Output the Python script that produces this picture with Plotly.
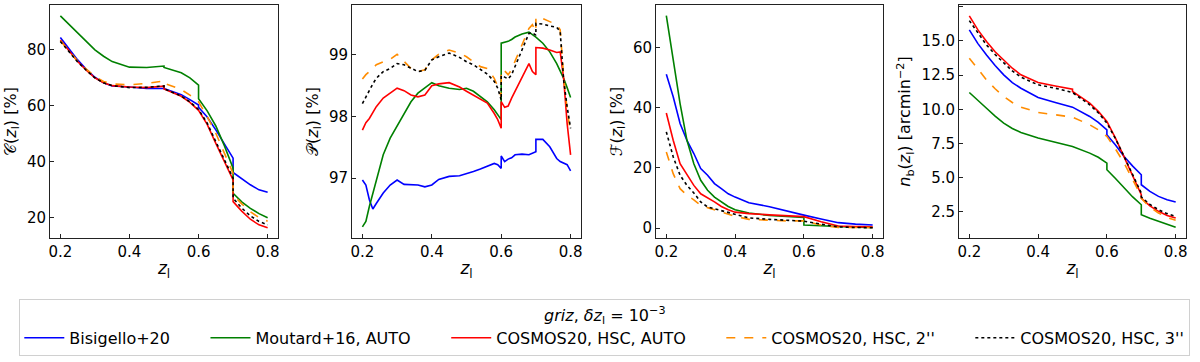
import plotly.graph_objects as go

# ---- data ----
labels = ["Bisigello+20", "Moutard+16, AUTO", "COSMOS20, HSC, AUTO",
          "COSMOS20, HSC, 2''", "COSMOS20, HSC, 3''"]
colors = ["#0000ff", "#008000", "#ff0000", "#ff8c00", "#000000"]
dashes = ["solid", "solid", "solid", "dash", "dot"]

# completeness C(z_l) [%]
z_c = [0.2, 0.225, 0.25, 0.275, 0.3, 0.325, 0.35, 0.4, 0.45, 0.5, 0.5, 0.55, 0.575,
       0.6, 0.6, 0.625, 0.65, 0.675, 0.7, 0.7, 0.725, 0.75, 0.775, 0.8]
c_bis = [84.2, 80.0, 76.2, 72.8, 70.0, 68.0, 66.9, 66.5, 66.0, 66.0, 66.0, 63.8, 62.0,
         60.1, 59.3, 55.8, 51.2, 46.2, 41.1, 36.0, 33.8, 31.6, 29.8, 28.9]
c_mou = [91.9, 88.8, 85.7, 82.6, 79.8, 77.5, 75.6, 73.6, 73.5, 74.0, 73.5, 71.6, 69.8,
         67.2, 62.3, 58.0, 52.6, 45.5, 37.5, 28.6, 25.5, 23.2, 21.3, 19.8]
c_auto = [83.3, 79.3, 75.6, 72.5, 69.8, 68.0, 67.0, 66.5, 66.3, 66.8, 65.8, 63.2, 61.0,
          58.2, 58.2, 53.2, 46.4, 40.0, 33.3, 25.6, 22.2, 19.3, 17.3, 16.3]
c_2as = [83.0, 79.3, 75.8, 72.9, 70.3, 68.5, 67.6, 67.3, 67.8, 68.7, 67.9, 65.6, 63.6,
         61.2, 61.2, 56.0, 50.0, 42.8, 35.7, 28.0, 24.8, 22.0, 19.9, 18.6]
c_3as = [82.8, 79.0, 75.5, 72.5, 69.8, 68.0, 67.0, 66.3, 66.4, 66.9, 65.9, 63.3, 61.2,
         58.5, 58.5, 53.6, 47.0, 40.6, 34.0, 26.8, 23.3, 20.5, 18.5, 17.3]

# purity P(z_l) [%]
z_p = [0.2, 0.21, 0.22, 0.23, 0.24, 0.26, 0.28, 0.3, 0.32, 0.34, 0.36, 0.38, 0.4, 0.42,
       0.45, 0.48, 0.5, 0.52, 0.54, 0.56, 0.58, 0.59, 0.6, 0.6, 0.61, 0.62, 0.63, 0.64,
       0.66, 0.68, 0.69, 0.7, 0.7, 0.72, 0.74, 0.76, 0.77, 0.78, 0.79, 0.8]
p_bis = [96.97, 96.89, 96.65, 96.50, 96.59, 96.76, 96.89, 96.97, 96.90, 96.90, 96.89,
         96.86, 96.89, 96.98, 97.03, 97.04, 97.07, 97.11, 97.15, 97.19, 97.24, 97.22,
         97.16, 97.36, 97.27, 97.31, 97.33, 97.38, 97.39, 97.38, 97.41, 97.43, 97.63,
         97.63, 97.51, 97.32, 97.27, 97.24, 97.22, 97.12]
p_mou = [96.21, 96.30, 96.54, 96.75, 96.97, 97.38, 97.65, 97.85, 98.05, 98.24, 98.38,
         98.46, 98.55, 98.50, 98.46, 98.44, 98.46, 98.41, 98.32, 98.24, 98.11, 98.03,
         97.95, 99.19, 99.20, 99.22, 99.25, 99.29, 99.34, 99.37, 99.33, 99.29, 99.29,
         99.19, 99.05, 98.86, 98.75, 98.62, 98.47, 98.31]
p_auto = [97.78, 97.90, 97.97, 98.06, 98.16, 98.30, 98.38, 98.46, 98.42, 98.35, 98.32,
          98.35, 98.50, 98.53, 98.55, 98.48, 98.41, 98.35, 98.28, 98.22, 98.05, 97.95,
          97.81, 98.24, 98.15, 98.17, 98.30, 98.41, 98.64, 98.86, 98.73, 98.68, 99.12,
          99.11, 99.08, 99.04, 99.05, 98.62, 97.89, 97.38]
p_2as = [98.61, 98.68, 98.73, 98.79, 98.84, 98.89, 98.93, 99.01, 98.89, 98.78, 98.73,
         98.76, 98.92, 99.01, 99.08, 99.03, 98.97, 98.89, 98.81, 98.78, 98.62, 98.49,
         98.32, 98.76, 98.74, 98.68, 98.76, 98.90, 99.17, 99.43, 99.49, 99.38, 99.61,
         99.59, 99.54, 99.49, 99.41, 98.65, 98.11, 97.73]
p_3as = [98.21, 98.32, 98.43, 98.53, 98.62, 98.73, 98.78, 98.86, 98.84, 98.78, 98.73,
         98.75, 98.92, 98.97, 99.03, 98.96, 98.89, 98.84, 98.76, 98.69, 98.57, 98.46,
         98.27, 98.66, 98.64, 98.61, 98.68, 98.82, 99.10, 99.35, 99.36, 99.32, 99.51,
         99.50, 99.47, 99.45, 99.38, 98.59, 98.16, 97.81]

# fraction F(z_l) [%]
z_f = [0.2, 0.22, 0.24, 0.26, 0.28, 0.3, 0.32, 0.34, 0.36, 0.38, 0.4, 0.44, 0.5, 0.55,
       0.6, 0.6, 0.65, 0.7, 0.75, 0.8]
f_bis = [51.2, 43.7, 34.8, 29.2, 24.8, 19.8, 17.6, 14.8, 13.1, 11.4, 10.3, 8.4, 7.1, 5.6,
         4.3, 4.3, 3.0, 1.8, 1.3, 1.0]
f_mou = [70.7, 55.9, 41.4, 29.2, 21.4, 15.9, 12.6, 10.3, 8.7, 7.2, 6.1, 5.0, 4.2, 3.8,
         3.5, 1.0, 0.7, 0.4, 0.3, 0.2]
f_auto = [38.3, 29.2, 21.4, 17.6, 14.2, 11.4, 10.1, 8.7, 7.2, 6.1, 5.3, 4.8, 4.4, 4.0,
          3.8, 3.8, 2.1, 0.7, 0.5, 0.4]
f_2as = [25.3, 18.1, 13.1, 10.9, 9.4, 7.6, 6.8, 6.1, 5.3, 4.6, 3.9, 2.9, 2.5, 2.4,
         2.4, 2.4, 1.0, 0.2, 0.2, 0.2]
f_3as = [32.0, 23.7, 17.6, 14.2, 11.7, 8.7, 7.0, 6.4, 5.7, 5.0, 4.6, 3.4, 2.9, 2.7,
         2.3, 2.3, 1.3, 0.4, 0.2, 0.1]

# number density n_b(z_l) [arcmin^-2]
z_n = z_c
n_bis = [15.8, 14.8, 13.97, 13.2, 12.52, 11.95, 11.54, 10.86, 10.5, 10.16, 10.16, 9.48,
         9.05, 8.5, 8.14, 7.4, 6.56, 5.85, 5.22, 4.49, 4.0, 3.64, 3.4, 3.23]
n_mou = [11.23, 10.62, 10.08, 9.5, 8.99, 8.6, 8.31, 7.9, 7.58, 7.29, 7.29, 6.8, 6.5,
         6.07, 5.59, 4.95, 4.25, 3.6, 3.03, 2.3, 2.05, 1.82, 1.58, 1.38]
n_auto = [16.82, 15.8, 14.95, 14.2, 13.6, 13.0, 12.52, 11.96, 11.71, 11.47, 11.3, 10.45,
          9.85, 9.11, 9.11, 7.9, 6.56, 5.2, 3.76, 3.52, 2.95, 2.55, 2.25, 2.06]
n_2as = [13.73, 12.9, 12.15, 11.5, 10.94, 10.5, 10.16, 9.77, 9.6, 9.43, 9.43, 8.87, 8.5,
         8.02, 8.02, 7.1, 6.07, 4.85, 3.64, 3.5, 2.85, 2.43, 2.1, 1.89]
n_3as = [16.48, 15.55, 14.7, 14.0, 13.37, 12.8, 12.35, 11.79, 11.54, 11.23, 11.23, 10.33,
         9.75, 9.0, 9.0, 7.85, 6.56, 5.2, 3.88, 3.6, 3.05, 2.67, 2.38, 2.18]

panels = [
    (z_c, [c_bis, c_mou, c_auto, c_2as, c_3as]),
    (z_p, [p_bis, p_mou, p_auto, p_2as, p_3as]),
    (z_f, [f_bis, f_mou, f_auto, f_2as, f_3as]),
    (z_n, [n_bis, n_mou, n_auto, n_2as, n_3as]),
]

ytitles = [
    "\U0001D49E(<i>z</i><sub>l</sub>) [%]",
    "\U0001D4AB(<i>z</i><sub>l</sub>) [%]",
    "\u2131(<i>z</i><sub>l</sub>) [%]",
    "<i>n</i><sub>b</sub>(<i>z</i><sub>l</sub>) [arcmin<sup>\u22122</sup>]",
]
yranges = [[12.6, 95.8], [96.03, 99.81], [-3.3, 74.2], [0.6, 17.62]]
yticks = [[20, 40, 60, 80], [97, 98, 99], [0, 20, 40, 60],
          [2.5, 5.0, 7.5, 10.0, 12.5, 15.0, 17.5]]
yfmt = ["d", "d", "d", ".1f"]

W, H = 1200, 362
xdom_px = [(50, 278), (352, 581), (656, 883), (959, 1186)]
ydom = [(H - 238) / H, (H - 5) / H]

fig = go.Figure()
font = "DejaVu Sans"
pad = [6, 6, 6, 6, 0]  # extra spacing after legend texts

for i, (zz, series) in enumerate(panels):
    n = "" if i == 0 else str(i + 1)
    for k, ys in enumerate(series):
        fig.add_trace(go.Scatter(
            x=zz, y=ys, mode="lines", name=labels[k] + "\u00a0" * pad[k],
            legendgroup=labels[k], showlegend=(i == 0),
            line=dict(color=colors[k], width=1.6, dash=dashes[k]),
            xaxis="x" + n, yaxis="y" + n,
        ))
    ax = dict(showline=True, linecolor="#222", linewidth=1, mirror=True,
              ticks="inside", ticklen=4, tickcolor="#222", showgrid=False,
              zeroline=False, automargin=False,
              tickfont=dict(size=15, color="black"))
    x0, x1 = xdom_px[i]
    fig.layout["xaxis" + n] = dict(
        ax, domain=[x0 / W, x1 / W], range=[0.17, 0.83],
        tickvals=[0.2, 0.4, 0.6, 0.8], tickformat=".1f", anchor="y" + n,
        title=dict(text="<i>z</i><sub>l</sub>", font=dict(size=17, color="black"),
                   standoff=2),
    )
    fig.layout["yaxis" + n] = dict(
        ax, domain=list(ydom), range=yranges[i], tickvals=yticks[i],
        tickformat=yfmt[i], anchor="x" + n,
        title=dict(text=ytitles[i], font=dict(size=16, color="black"), standoff=6),
    )

fig.update_layout(
    width=W, height=H,
    margin=dict(l=0, r=0, t=0, b=0, autoexpand=False),
    paper_bgcolor="white", plot_bgcolor="white",
    font=dict(family=font, color="black"),
    legend=dict(
        orientation="h", x=0.504, xanchor="center", y=(H - 299) / H, yanchor="top",
        bordercolor="#d0d0d0", borderwidth=1, font=dict(size=16), itemwidth=40,
        tracegroupgap=0,
        title=dict(text="<i>griz</i>, <i>\u03b4z</i><sub>l</sub> = 10<sup>\u22123</sup>",
                   side="top center", font=dict(size=16)),
    ),
)

# drop the default page margin so the figure sits at the top-left corner
fig.write_html("out.html", config={"displayModeBar": False},
               post_script="document.body.style.margin='0';")
